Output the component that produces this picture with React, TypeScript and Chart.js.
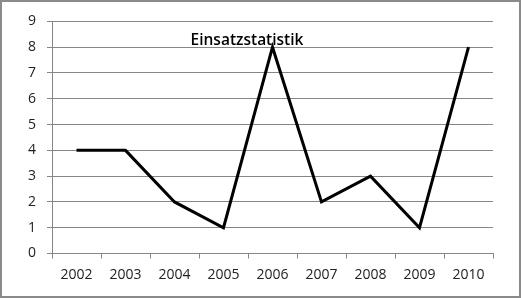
import React, { useEffect, useRef } from "react";
import { Chart, registerables } from "chart.js";

Chart.register(...registerables);

const years = ["2002", "2003", "2004", "2005", "2006", "2007", "2008", "2009", "2010"];
const einsaetze = [4, 4, 2, 1, 8, 2, 3, 1, 8];
const titleText = "Einsatzstatistik";
const yMin = 0;
const yMax = 9;

const GRID = "#868686";
const FONT = "'Open Sans', 'Liberation Sans', sans-serif";

const titlePlugin = {
  id: "innerTitle",
  afterDraw(chart: any) {
    const { ctx, chartArea } = chart;
    ctx.save();
    ctx.font = `600 15.5px ${FONT}`;
    ctx.fillStyle = "#000";
    ctx.textAlign = "center";
    ctx.textBaseline = "alphabetic";
    ctx.fillText(titleText, chartArea.left + 195, chartArea.top + 24);
    ctx.restore();
  },
};

export default function App() {
  const ref = useRef<HTMLCanvasElement>(null);
  useEffect(() => {
    if (!ref.current) return;
    const chart = new Chart(ref.current, {
      type: "line",
      data: {
        labels: years,
        datasets: [
          {
            data: einsaetze,
            borderColor: "#000",
            borderWidth: 3,
            pointRadius: 0,
            tension: 0,
            borderJoinStyle: "miter",
          },
        ],
      },
      options: {
        responsive: false,
        animation: false,
        layout: { padding: { left: 0, right: 26, top: 17.5, bottom: 0 } },
        plugins: { legend: { display: false }, title: { display: false }, tooltip: { enabled: false } },
        scales: {
          x: {
            offset: true,
            grid: { display: true, drawOnChartArea: false, drawTicks: true, tickLength: 5, color: GRID, offset: true },
            border: { display: true, color: GRID },
            ticks: { color: "#222", font: { family: FONT, size: 14 }, padding: 8, maxRotation: 0 },
            afterFit(scale: any) {
              scale.height = 42.5;
            },
          },
          y: {
            min: yMin,
            max: yMax,
            grid: { color: GRID, tickLength: 5, drawTicks: true },
            border: { display: true, color: GRID },
            ticks: { stepSize: 1, color: "#222", font: { family: FONT, size: 14 }, padding: 11 },
            afterFit(scale: any) {
              scale.width = 50;
            },
          },
        },
      },
      plugins: [titlePlugin],
    });
    return () => chart.destroy();
  }, []);
  return (
    <div
      style={{
        position: "absolute",
        left: 0,
        top: 0,
        width: 521,
        height: 298,
        boxSizing: "border-box",
        border: "2px solid #8a8a8a",
        background: "#fff",
      }}
    >
      <canvas ref={ref} width={517} height={294} style={{ display: "block" }} />
    </div>
  );
}
